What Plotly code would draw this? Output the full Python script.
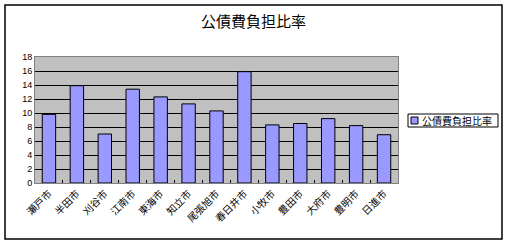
import plotly.graph_objects as go

categories = ["瀬戸市", "半田市", "刈谷市", "江南市", "東海市", "知立市", "尾張旭市",
              "春日井市", "小牧市", "豊田市", "大府市", "豊明市", "日進市"]
values = [9.8, 13.9, 7.0, 13.4, 12.3, 11.3, 10.3, 15.9, 8.3, 8.5, 9.2, 8.2, 6.9]
series_name = "公債費負担比率"
y_ticks = [0, 2, 4, 6, 8, 10, 12, 14, 16, 18]

W, H = 507, 244
L, R, T, B = 35, 398, 57, 183
pw, ph = R - L, B - T

def px_x(x):
    return (x - L) / pw

def px_y(y):
    return (B - y) / ph

font = "Noto Sans CJK JP, Noto Sans, sans-serif"
bar_color = "#9999FF"

fig = go.Figure(go.Bar(
    x=categories, y=values, name=series_name,
    marker=dict(color=bar_color, line=dict(color="black", width=1)),
    showlegend=False,
))

shapes = [
    dict(type="rect", xref="paper", yref="paper",
         x0=px_x(5), x1=px_x(502), y0=px_y(239), y1=px_y(5),
         line=dict(color="black", width=1.5), fillcolor="rgba(0,0,0,0)", layer="below"),
    # legend box
    dict(type="rect", xref="paper", yref="paper",
         x0=px_x(408), x1=px_x(498), y0=px_y(127), y1=px_y(114),
         line=dict(color="black", width=1), fillcolor="white", layer="above"),
    # legend symbol
    dict(type="rect", xref="paper", yref="paper",
         x0=px_x(411), x1=px_x(418), y0=px_y(124), y1=px_y(117),
         line=dict(color="black", width=1), fillcolor=bar_color, layer="above"),
]

annotations = [
    dict(text=series_name, xref="paper", yref="paper", x=px_x(420), y=px_y(120.5),
         xanchor="left", yanchor="middle", showarrow=False,
         font=dict(family=font, size=10, color="black")),
]

fig.update_layout(
    width=W, height=H,
    margin=dict(l=L, r=W - R, t=T, b=H - B, autoexpand=False),
    paper_bgcolor="white", plot_bgcolor="#C0C0C0",
    bargap=0.52,
    showlegend=False,
    title=dict(text=series_name, x=0.5, xanchor="center", y=1 - 22 / H, yanchor="middle",
               font=dict(family=font, size=15, color="black")),
    font=dict(family=font, size=9, color="black"),
    xaxis=dict(type="category", tickangle=-45, tickson="boundaries", ticks="inside",
               ticklen=3, tickcolor="black", showline=True, linecolor="#808080",
               linewidth=1, mirror=True, showgrid=False,
               tickfont=dict(family=font, size=10, color="black")),
    yaxis=dict(range=[0, 18], tickvals=y_ticks, showgrid=True, gridcolor="black",
               gridwidth=1, showline=True, linecolor="#808080", linewidth=1, mirror=True,
               ticks="", zeroline=False,
               tickfont=dict(family="Arial, Liberation Sans, sans-serif", size=9, color="black")),
    shapes=shapes,
    annotations=annotations,
)

fig.write_html("out.html")
